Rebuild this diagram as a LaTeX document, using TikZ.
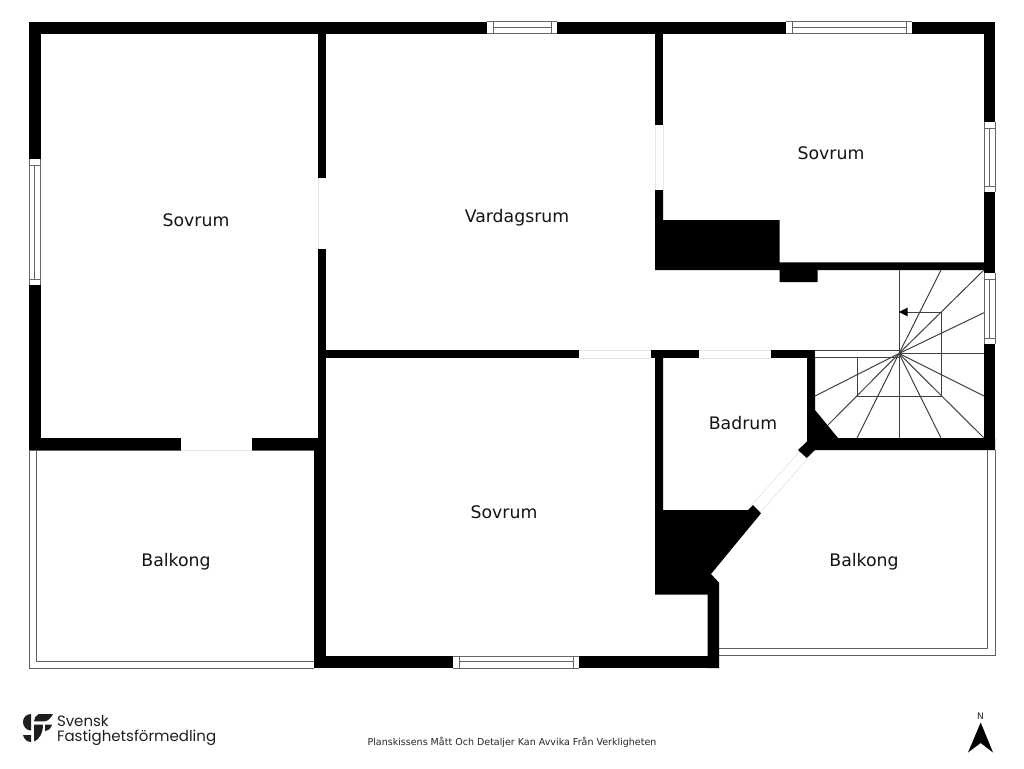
\documentclass[tikz,border=0pt]{standalone}
\usepackage{fontspec}
\setmainfont{DejaVu Sans}
\newfontfamily\logofont{Poppins}
\tikzset{
  wall/.style={fill=black,draw=none},
  winline/.style={draw=black!60,line width=1pt},
  balc/.style={draw=black!62,line width=1pt},
  thresh/.style={draw=black!10,line width=0.7pt},
  stair/.style={draw=black!75,line width=1pt},
  room/.style={font=\fontsize{17.3}{20}\selectfont,text=black!92,inner sep=0pt},
  logotxt/.style={font=\logofont\fontsize{15}{18}\selectfont,text=black!88,inner sep=0pt,anchor=base west,draw=black!88,line width=0pt},
  logomark/.style={fill=black!88,draw=none}
}
\newcommand{\hwin}[3]{% x1,x2,ytop
  \draw[winline] (#1,#3) -- (#2,#3) (#1,#3+12) -- (#2,#3+12);
  \draw[winline] (#1+6,#3) -- (#1+6,#3+12) (#2-6,#3) -- (#2-6,#3+12);
  \draw[winline] (#1+6,#3+5.8) -- (#2-6,#3+5.8);
}
\newcommand{\vwin}[3]{% y1,y2,xleft
  \draw[winline] (#3,#1) -- (#3,#2) (#3+11.5,#1) -- (#3+11.5,#2);
  \draw[winline] (#3,#1+6) -- (#3+11.5,#1+6) (#3,#2-6) -- (#3+11.5,#2-6);
  \draw[winline] (#3+5.8,#1+6) -- (#3+5.8,#2-6);
}
\begin{document}
\begin{tikzpicture}[x=1pt,y=-1pt]
\useasboundingbox[fill=white] (0,0) rectangle (1024,768);
% balconies
\draw[balc] (314,450) -- (29,450) -- (29,668) -- (314,668);
\draw[balc] (314,450) -- (36.5,450) -- (36.5,661) -- (314,661);
\draw[balc] (719,655.5) -- (995,655.5) -- (995,450);
\draw[balc] (719,648) -- (987.5,648) -- (987.5,450);
% thresholds
\draw[thresh] (181,450) -- (252,450);
\draw[thresh] (318,178) -- (318,249);
\draw[thresh] (655,125) -- (655,190) (663,125) -- (663,190);
\draw[thresh] (579,350) -- (651,350) (579,358) -- (651,358);
\draw[thresh] (699,350) -- (771,350) (699,358) -- (771,358);
\draw[thresh] (751,506) -- (800,451) (759,514) -- (808,458);
% walls
\fill[wall] (29,22) rectangle (487,34);
\fill[wall] (557,22) rectangle (786,34);
\fill[wall] (912,22) rectangle (995,34);
\fill[wall] (29,22) rectangle (41,159);
\fill[wall] (29,285) rectangle (41,450);
\fill[wall] (984,22) rectangle (995,122);
\fill[wall] (984,192) rectangle (995,273);
\fill[wall] (984,344) rectangle (995,450);
\fill[wall] (318,34) rectangle (326,178);
\fill[wall] (318,249) rectangle (326,438);
\fill[wall] (29,438) rectangle (181,450);
\fill[wall] (252,438) rectangle (326,450);
\fill[wall] (314,450) rectangle (326,668);
\fill[wall] (314,656) rectangle (453,668);
\fill[wall] (579,656) rectangle (719,668);
\fill[wall] (326,350) rectangle (579,358);
\fill[wall] (651,350) rectangle (699,358);
\fill[wall] (771,350) rectangle (815,358);
\fill[wall] (655,34) rectangle (663,125);
% block under upper bedroom
\fill[wall] (655,190) -- (663,190) -- (663,220) -- (779.5,220) -- (779.5,262.3) -- (984,262.3)
  -- (984,270) -- (817.7,270) -- (817.7,282) -- (779.5,282) -- (779.5,270) -- (655,270) -- cycle;
% bath wall and lower block
\fill[wall] (655,358) -- (663,358) -- (663,510) -- (748,510) -- (753,505) -- (761,513.3)
  -- (711,574) -- (719,582.7) -- (719,668) -- (707.5,668) -- (707.5,594.5) -- (655,594.5) -- cycle;
% stair corner
\fill[wall] (807,358) -- (815,358) -- (815,410) -- (838,438) -- (995,438) -- (995,450)
  -- (815,450) -- (806.7,458) -- (798,450) -- (807,441.5) -- cycle;
% windows
\hwin{487}{557}{22}
\hwin{786}{912}{22}
\hwin{453}{579}{656}
\vwin{159}{285}{29}
\vwin{122}{192}{984}
\vwin{273}{344}{984}
% stairs
\coordinate (sc) at (899,353.5);
\draw[stair] (899,270) -- (899,438);
\foreach \ex/\ey in {941/270,984/270,984/312.7,984/353.5,984/396,984/438,941/438,857/438,828/425,815/396}
  \draw[stair] (sc) -- (\ex,\ey);
\draw[stair] (815,350.5) -- (899,350.5) (815,357.8) -- (899,357.8);
\draw[stair] (899,312) -- (941,312) -- (941,396) -- (857,396) -- (857,357.8);
\fill[black] (899,312) -- (907.7,307.5) -- (907.7,316.5) -- cycle;
% room labels
\node[room] (r1) at (196,220) {Sovrum};
\node[room] (r2) at (517,218) {Vardagsrum};
\node[room] (r3) at (831,153) {Sovrum};
\node[room] (r4) at (743,423) {Badrum};
\node[room] (r5) at (504,512.5) {Sovrum};
\node[room] (r6) at (176,562) {Balkong};
\node[room] (r7) at (864,562) {Balkong};
% footer
\node[inner sep=0pt,font=\fontsize{9.52}{11}\selectfont,text=black!85] (foot) at (512,742.5) {Planskissens Mått Och Detaljer Kan Avvika Från Verkligheten};
\node[inner sep=0pt,font=\fontsize{9}{10}\selectfont,text=black!85] (north) at (980.5,716) {N};
\fill[black] (980.7,722.5) -- (993,752.5) -- (980.7,743) -- (968,752.5) -- cycle;
% logo mark
\fill[logomark] (31,714) .. controls (26,714) and (23,718) .. (23,722) .. controls (23,726) and (26,730.5) .. (31,730.5) -- cycle;
\fill[logomark] (38.7,714) -- (53,714) .. controls (51,718) and (48,721) .. (44.7,721.3) -- (34,721.3) .. controls (34,718) and (36,715) .. (38.7,714) -- cycle;
\fill[logomark] (34,724.7) -- (43,724.7) .. controls (43,733) and (39,740) .. (34,741.5) -- cycle;
\fill[logomark] (45,724.7) -- (52,724.7) .. controls (51,728) and (49,730.5) .. (45,731) -- cycle;
\fill[logomark] (23,735) -- (31,735) -- (31,742) .. controls (27,742) and (24,739) .. (23,735) -- cycle;
\node[logotxt,draw=none] (l1) at (57,726) {Svensk};
\node[logotxt,draw=none] (l2) at (57,741.7) {Fastighetsförmedling};
\end{tikzpicture}
\end{document}
